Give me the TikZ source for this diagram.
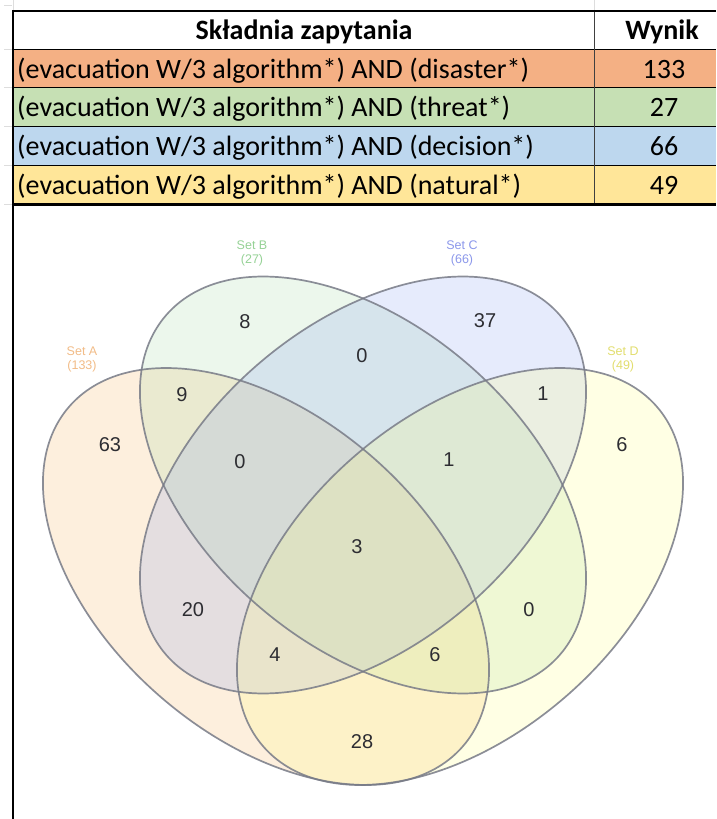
\documentclass[tikz,border=0pt]{standalone}
\usepackage{fontspec}
\newfontfamily\tablefont{Carlito}
\newfontfamily\vennfont{Liberation Sans}

% spreadsheet row colours
\definecolor{rowOrange}{HTML}{F4B084}
\definecolor{rowGreen}{HTML}{C6E0B4}
\definecolor{rowBlue}{HTML}{BDD7EE}
\definecolor{rowGold}{HTML}{FFE699}
\definecolor{gridGray}{HTML}{DDDDDD}
% set colours of the Venn diagram
\definecolor{setAcol}{RGB}{245,175,85}
\definecolor{setBcol}{RGB}{160,215,160}
\definecolor{setCcol}{RGB}{130,155,240}
\definecolor{setDcol}{RGB}{255,255,120}
\definecolor{labAcol}{RGB}{242,188,135}
\definecolor{labBcol}{RGB}{150,210,150}
\definecolor{labCcol}{RGB}{140,152,235}
\definecolor{labDcol}{RGB}{226,222,110}
\definecolor{outlineCol}{RGB}{120,123,135}
\definecolor{countCol}{RGB}{45,45,50}

\tikzset{
  cellText/.style={inner sep=0pt, anchor=base west,
    font=\tablefont\fontsize{28}{32}\selectfont},
  cellNum/.style={inner sep=0pt, anchor=base,
    font=\tablefont\fontsize{28}{32}\selectfont},
  headText/.style={inner sep=0pt, anchor=base,
    font=\tablefont\bfseries\fontsize{28}{32}\selectfont},
  setFill/.style={fill=#1, fill opacity=0.2},
  setLine/.style={draw=outlineCol, line width=1.7pt, draw opacity=0.85},
  setLabel/.style={inner sep=0pt, align=center, text=#1,
    font=\vennfont\fontsize{12.5}{14}\selectfont},
  count/.style={inner sep=0pt, text=countCol,
    font=\vennfont\fontsize{20}{24}\selectfont},
  thinRule/.style={line width=1pt, draw=black},
  gridStub/.style={line width=0.8pt, draw=gridGray},
}

\begin{document}
\begin{tikzpicture}[x=1pt,y=-1pt]
\useasboundingbox (0,0) rectangle (716,819);
\fill[white] (0,0) rectangle (716,819);

% ---------- query table ----------
\fill[rowOrange] (13,49)    rectangle (716,87.5);
\fill[rowGreen]  (13,87.5)  rectangle (716,126);
\fill[rowBlue]   (13,126)   rectangle (716,165);
\fill[rowGold]   (13,165)   rectangle (716,204.5);

% faint sheet grid outside the table
\draw[gridStub] (4,5) -- (12,5);
\draw[gridStub] (13,0) -- (13,11);
\draw[gridStub] (594,0) -- (594,11);
\foreach \yy in {49,87.5,126,165,204.5} \draw[gridStub] (4,\yy) -- (12,\yy);

% row rules
\draw[thinRule] (13,49) -- (716,49);
\draw[thinRule] (13,87.5) -- (716,87.5);
\draw[thinRule] (13,126) -- (716,126);
\draw[thinRule] (13,165) -- (716,165);
\draw[line width=1pt, draw=black!75] (594,11) -- (594,204.5);
\draw[line width=2pt] (12,11) -- (716,11);
\draw[line width=3pt] (12,204.5) -- (716,204.5);
\draw[line width=2.6pt] (13,10) -- (13,819);

\node[headText] (hQuery) at (304,39) {Składnia zapytania};
\node[headText] (hResult) at (662,39) {Wynik};

\node[cellText] (q1) at (17,78)    {(evacuation W/3 algorithm*) AND (disaster*)};
\node[cellText] (q2) at (17,116.5) {(evacuation W/3 algorithm*) AND (threat*)};
\node[cellText] (q3) at (17,155.5) {(evacuation W/3 algorithm*) AND (decision*)};
\node[cellText] (q4) at (17,194.5) {(evacuation W/3 algorithm*) AND (natural*)};
\node[cellNum] (n1) at (664,78)    {133};
\node[cellNum] (n2) at (664,116.5) {27};
\node[cellNum] (n3) at (664,155.5) {66};
\node[cellNum] (n4) at (664,194.5) {49};

% ---------- four-set Venn diagram ----------
\coordinate (cA) at (266,576.5);
\coordinate (cB) at (363,485);
\coordinate (cC) at (363,485);
\coordinate (cD) at (460,576.5);

\fill[setFill=setAcol, rotate around={-40.7:(cA)}] (cA) ellipse [x radius=260pt, y radius=160pt];
\fill[setFill=setBcol, rotate around={-40.7:(cB)}] (cB) ellipse [x radius=260pt, y radius=160pt];
\fill[setFill=setCcol, rotate around={40.7:(cC)}]  (cC) ellipse [x radius=260pt, y radius=160pt];
\fill[setFill=setDcol, rotate around={40.7:(cD)}]  (cD) ellipse [x radius=260pt, y radius=160pt];

\draw[setLine, rotate around={-40.7:(cA)}] (cA) ellipse [x radius=260pt, y radius=160pt];
\draw[setLine, rotate around={-40.7:(cB)}] (cB) ellipse [x radius=260pt, y radius=160pt];
\draw[setLine, rotate around={40.7:(cC)}]  (cC) ellipse [x radius=260pt, y radius=160pt];
\draw[setLine, rotate around={40.7:(cD)}]  (cD) ellipse [x radius=260pt, y radius=160pt];

% set names
\node[setLabel=labAcol] (labA) at (82,359)  {Set A\\(133)};
\node[setLabel=labBcol] (labB) at (252,253) {Set B\\(27)};
\node[setLabel=labCcol] (labC) at (462,253) {Set C\\(66)};
\node[setLabel=labDcol] (labD) at (623,359) {Set D\\(49)};

% region counts
\node[count] (rA)    at (110,445) {63};
\node[count] (rB)    at (245,322) {8};
\node[count] (rC)    at (485,321) {37};
\node[count] (rD)    at (622,445) {6};
\node[count] (rAB)   at (182,395) {9};
\node[count] (rBC)   at (362,356) {0};
\node[count] (rCD)   at (543,394) {1};
\node[count] (rABC)  at (240,462) {0};
\node[count] (rBCD)  at (449,460) {1};
\node[count] (rABCD) at (357,547) {3};
\node[count] (rAC)   at (193,610) {20};
\node[count] (rBD)   at (529,610) {0};
\node[count] (rACD)  at (275,655) {4};
\node[count] (rABD)  at (435,655) {6};
\node[count] (rAD)   at (362,742) {28};
\end{tikzpicture}
\end{document}
